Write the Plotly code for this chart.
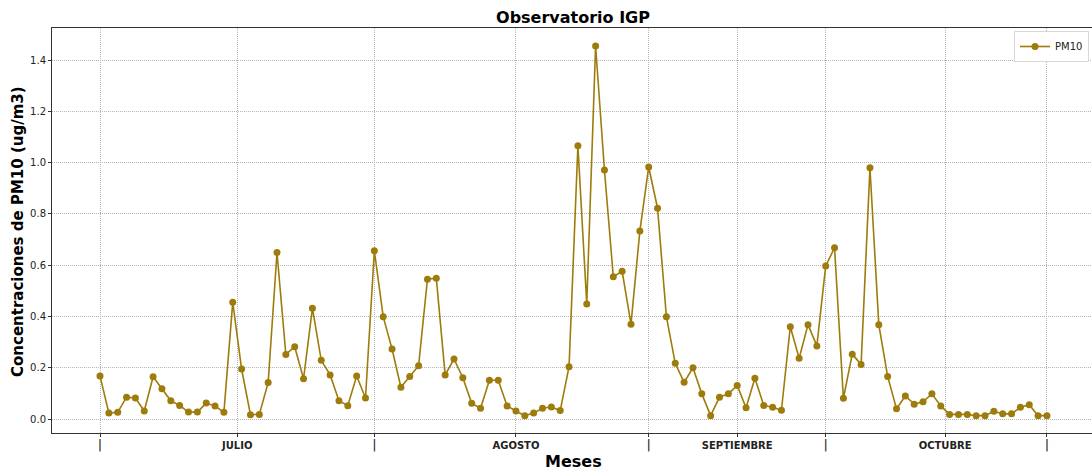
import plotly.graph_objects as go

pm10 = [0.168, 0.023, 0.026, 0.085, 0.082, 0.031, 0.165, 0.118, 0.071, 0.053,
        0.027, 0.027, 0.062, 0.051, 0.026, 0.455, 0.195, 0.017, 0.018, 0.142,
        0.649, 0.252, 0.282, 0.157, 0.432, 0.229, 0.172, 0.071, 0.052, 0.168,
        0.082, 0.656, 0.399, 0.273, 0.124, 0.166, 0.208, 0.545, 0.549, 0.172,
        0.234, 0.161, 0.061, 0.042, 0.151, 0.151, 0.051, 0.031, 0.013, 0.023,
        0.042, 0.047, 0.033, 0.204, 1.066, 0.449, 1.455, 0.971, 0.555, 0.576,
        0.370, 0.733, 0.983, 0.822, 0.399, 0.217, 0.143, 0.200, 0.098, 0.013,
        0.085, 0.098, 0.131, 0.044, 0.159, 0.053, 0.046, 0.034, 0.360, 0.237,
        0.368, 0.285, 0.597, 0.668, 0.081, 0.253, 0.213, 0.980, 0.368, 0.166,
        0.040, 0.090, 0.058, 0.067, 0.098, 0.051, 0.018, 0.018, 0.018, 0.013,
        0.013, 0.030, 0.020, 0.020, 0.046, 0.056, 0.013, 0.013]
days = list(range(len(pm10)))

major_ticks = [0, 31, 62, 82, 107]
month_ticks = [15.5, 47, 72, 95.5]
month_labels = ["JULIO", "AGOSTO", "SEPTIEMBRE", "OCTUBRE"]
y_ticks = [0.0, 0.2, 0.4, 0.6, 0.8, 1.0, 1.2, 1.4]

color = "#9E7C0C"
font = "DejaVu Sans"

W, H = 1092, 470
# plot box in pixels
PX0, PX1, PY0, PY1 = 52, 1092, 28, 433
L, R, T, B = PX0, W - PX1, PY0, H - PY1
pw = W - L - R
ph = H - T - B


def px_to_paper_x(px):
    return (px - L) / pw


def py_to_paper_y(py):
    return 1 - (py - T) / ph


fig = go.Figure()
fig.add_trace(go.Scatter(
    x=days, y=pm10, mode="lines+markers", name="PM10",
    line=dict(color=color, width=1.6),
    marker=dict(color=color, size=7),
))

tickvals = major_ticks + month_ticks
ticktext = ["<span style='font-size:13px'>|</span>"] * len(major_ticks) + \
    ["<b>%s</b>" % m for m in month_labels]

fig.update_layout(
    width=W, height=H,
    margin=dict(l=L, r=R, t=T, b=B, autoexpand=False),
    paper_bgcolor="white", plot_bgcolor="white",
    font=dict(family=font, color="#222222", size=10),
    title=dict(text="<b>Observatorio IGP</b>", x=px_to_paper_x(573), xref="paper", xanchor="center",
               y=1 - 17 / H, yref="container", yanchor="middle",
               font=dict(size=16, color="black", family=font)),
    showlegend=True,
    legend=dict(x=px_to_paper_x(1089), y=py_to_paper_y(31), xanchor="right", yanchor="top",
                bgcolor="white", bordercolor="#d8d8d8", borderwidth=1,
                itemwidth=30, tracegroupgap=0,
                font=dict(size=10, family=font, color="#222222")),
    xaxis=dict(
        range=[-5.424, 112.09], automargin=False,
        tickmode="array", tickvals=tickvals, ticktext=ticktext,
        showgrid=True, gridcolor="#b4b4b4", griddash="1px,1px", gridwidth=1,
        zeroline=False, showline=True, linecolor="#333333", linewidth=1, mirror=True,
        ticks="outside", ticklen=3, tickcolor="#333333",
        tickfont=dict(size=10, family=font, color="#222222"),
    ),
    yaxis=dict(
        range=[-0.0546, 1.525], automargin=False,
        tickmode="array", tickvals=y_ticks, ticktext=["%.1f" % v for v in y_ticks],
        showgrid=True, gridcolor="#b4b4b4", griddash="1px,1px", gridwidth=1,
        zeroline=False, showline=True, linecolor="#333333", linewidth=1,
        ticks="outside", ticklen=3, tickcolor="#333333",
        tickfont=dict(size=10, family=font, color="#222222"),
    ),
    annotations=[
        dict(text="<b>Meses</b>", xref="paper", yref="paper",
             x=px_to_paper_x(573), y=py_to_paper_y(461), xanchor="center", yanchor="middle",
             showarrow=False, font=dict(size=16, family=font, color="black")),
        dict(text="<b>Concentraciones de PM10 (ug/m3)</b>", xref="paper", yref="paper",
             x=px_to_paper_x(18), y=py_to_paper_y(232), xanchor="center", yanchor="middle",
             textangle=-90, showarrow=False,
             font=dict(size=15, family=font, color="black")),
    ],
)

fig.write_html(
    "out.html",
    config={"displayModeBar": False},
    post_script="document.body.style.margin='0';document.body.style.overflow='hidden';",
)
